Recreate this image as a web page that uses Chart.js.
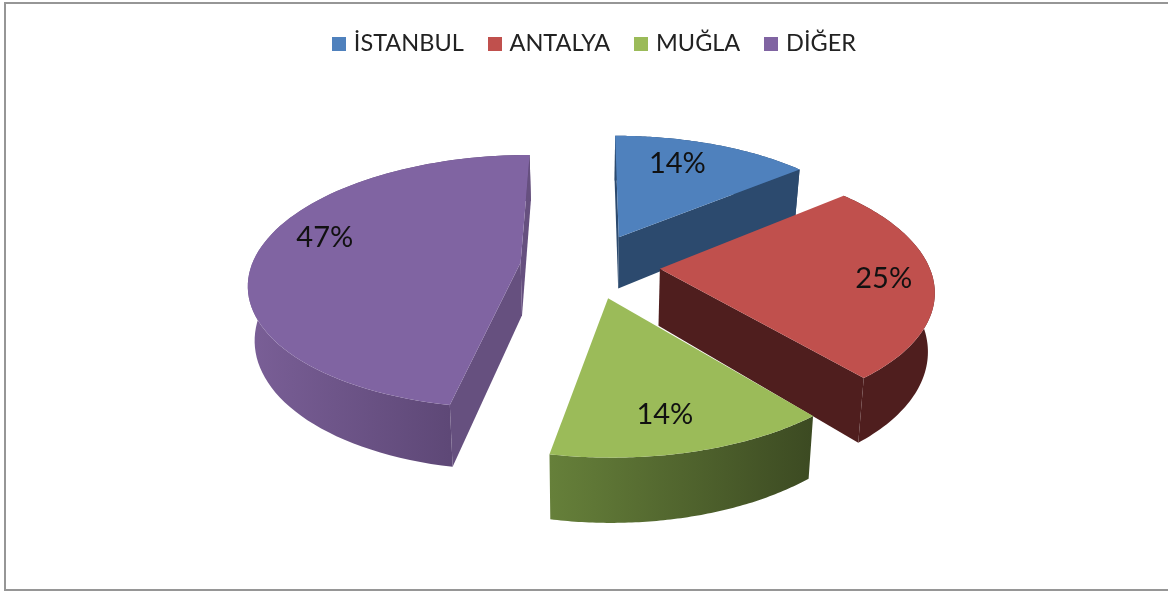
<!DOCTYPE html>
<html>
<head>
<meta charset="utf-8">
<title>Pie</title>
<script src="https://cdn.jsdelivr.net/npm/chart.js@4"></script>
<style>
  html, body { margin: 0; background: #fff; }
  canvas { display: block; }
</style>
</head>
<body>
<canvas id="pieChart" width="1168" height="593"></canvas>
<script>
const categories = ["İSTANBUL", "ANTALYA", "MUĞLA", "DİĞER"];
const percents = [14, 25, 14, 47];

const topColors = ["#4f81bd", "#c0504d", "#9bbb59", "#8064a2"];
const faceColors = ["#2c4a6e", "#4f1e1e", "#3f4d24", "#66507f"];
const rimLeft = ["#2c4a6e", "#4f1e1e", "#66803a", "#7a5f97"];
const rimRight = ["#2c4a6e", "#4f1e1e", "#3c4a22", "#533f6a"];

// where the % label sits inside its slice
const labelRadius = [0.74, 0.82, 0.78, 0.79];
const labelTurn = [4.7, 0, -1.7, -10];

// fake 3D camera, Chart.js has no perspective pie
const CX = 590, CY = 265.6, RX = 269, RY = 124.6, TILT = 0.15;
const SHRINK = 0.02, EXPLODE = 0.26;
const sliceDepth = [53, 57, 53, 53];

function project(u, v, z) {
  const w = 1 + TILT * v;
  return {
    x: CX + RX * u / w * (z ? 1 - SHRINK : 1),
    y: CY + (-RY * v + z) / w
  };
}

function sliceGeometry(arc) {
  const p = arc.getProps(["startAngle", "endAngle"], true);
  const mid = (p.startAngle + p.endAngle) / 2;
  const du = Math.cos(mid) * EXPLODE, dv = -Math.sin(mid) * EXPLODE;
  const rim = [];
  const steps = 80;
  for (let i = 0; i <= steps; i++) {
    const a = p.startAngle + (p.endAngle - p.startAngle) * i / steps;
    rim.push({ u: du + Math.cos(a), v: dv - Math.sin(a) });
  }
  return { mid, du, dv, rim };
}

function tracePath(ctx, pts) {
  ctx.beginPath();
  pts.forEach((pt, i) => i ? ctx.lineTo(pt.x, pt.y) : ctx.moveTo(pt.x, pt.y));
  ctx.closePath();
}

// side wall from the apex to the rim, skipped when it faces away from the viewer
function drawFace(ctx, g, end, depth, sign) {
  const a = project(g.du, g.dv, 0), a2 = project(g.du, g.dv, depth);
  const b = project(end.u, end.v, 0), b2 = project(end.u, end.v, depth);
  const cross = (b.x - a.x) * (b2.y - b.y) - (b.y - a.y) * (b2.x - b.x);
  if (cross * sign <= 0) return;
  tracePath(ctx, [a, b, b2, a2]);
  ctx.fill();
}

const pie3d = {
  id: "pie3d",
  beforeDraw(chart) {
    const ctx = chart.ctx;
    ctx.save();
    ctx.strokeStyle = "#969696";
    ctx.lineWidth = 2;
    ctx.beginPath();
    ctx.moveTo(1168, 3);
    ctx.lineTo(5, 3);
    ctx.lineTo(5, 590);
    ctx.lineTo(1168, 590);
    ctx.stroke();
    ctx.restore();
  },
  beforeDatasetsDraw(chart) {
    const ctx = chart.ctx;
    const arcs = chart.getDatasetMeta(0).data;
    ctx.save();
    [0, 1, 3, 2].forEach(i => {
      const g = sliceGeometry(arcs[i]);
      const depth = sliceDepth[i];
      const top = g.rim.map(r => project(r.u, r.v, 0));
      const bottom = g.rim.map(r => project(r.u, r.v, depth));

      const xs = top.map(t => t.x);
      const grad = ctx.createLinearGradient(Math.min(...xs), 0, Math.max(...xs), 0);
      grad.addColorStop(0, rimLeft[i]);
      grad.addColorStop(1, rimRight[i]);
      ctx.fillStyle = grad;
      tracePath(ctx, top.concat(bottom.slice().reverse()));
      ctx.fill();

      ctx.fillStyle = faceColors[i];
      drawFace(ctx, g, g.rim[0], depth, -1);
      drawFace(ctx, g, g.rim[g.rim.length - 1], depth, 1);

      ctx.fillStyle = topColors[i];
      tracePath(ctx, [project(g.du, g.dv, 0)].concat(top));
      ctx.fill();
    });
    ctx.fillStyle = "#111";
    ctx.font = "29px Lato";
    ctx.textAlign = "center";
    ctx.textBaseline = "middle";
    arcs.forEach((arc, i) => {
      const g = sliceGeometry(arc);
      const a = g.mid - labelTurn[i] * Math.PI / 180;
      const pt = project(g.du + Math.cos(a) * labelRadius[i], g.dv - Math.sin(a) * labelRadius[i], 0);
      ctx.fillText(percents[i] + "%", pt.x, pt.y);
    });
    ctx.restore();
    return false;
  }
};

// legend squares: a canvas point style so the text sits closer than boxWidth + size/2
const swatches = topColors.map(color => {
  const c = document.createElement("canvas");
  c.width = 14;
  c.height = 14;
  const x = c.getContext("2d");
  x.fillStyle = color;
  x.fillRect(0, 0, 14, 14);
  return c;
});

new Chart(document.getElementById("pieChart"), {
  type: "pie",
  data: {
    labels: categories,
    datasets: [{
      data: percents,
      backgroundColor: topColors
    }]
  },
  options: {
    responsive: false,
    animation: false,
    layout: { padding: { top: 4, left: 24 } },
    plugins: {
      tooltip: { enabled: false },
      legend: {
        position: "top",
        labels: {
          usePointStyle: true,
          pointStyleWidth: 6,
          padding: 28,
          color: "#222",
          font: { family: "Lato", size: 23.5 },
          generateLabels(chart) {
            const items = Chart.overrides.pie.plugins.legend.labels.generateLabels(chart);
            return items.map((it, i) => Object.assign(it, { pointStyle: swatches[i], lineWidth: 0 }));
          }
        }
      }
    }
  },
  plugins: [pie3d]
});
</script>
</body>
</html>
